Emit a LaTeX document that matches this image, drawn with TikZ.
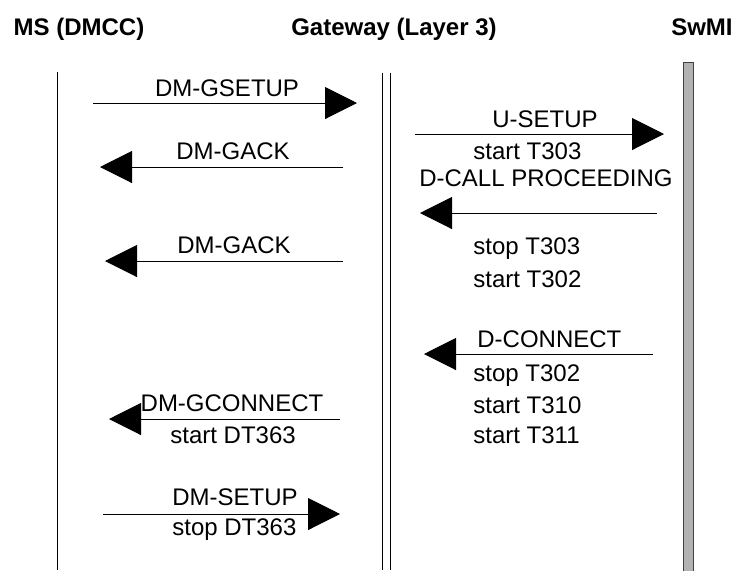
\documentclass[tikz,border=0pt]{standalone}
\usepackage{fontspec}
\setmainfont{Liberation Sans}
\usetikzlibrary{arrows.meta}

\tikzset{
  msg/.style={line width=0.5pt, -{Triangle[length=16pt,width=16pt]}},
  life/.style={line width=0.5pt},
  lbl/.style={inner sep=0pt, anchor=base, font=\fontsize{12}{14}\selectfont},
  lblw/.style={lbl, anchor=base west},
  hdr/.style={inner sep=0pt, anchor=base, font=\bfseries\fontsize{12}{14}\selectfont},
}

\begin{document}
\begin{tikzpicture}[x=0.5pt,y=-0.5pt]
  \useasboundingbox (0,0) rectangle (734,570);
  % headers
  \node[hdr] (msT) at (79,35) {MS (DMCC)};
  \node[hdr] (gwT) at (394,35) {Gateway (Layer 3)};
  \node[hdr, anchor=base east] (swT) at (733,35) {SwMI};
  % lifelines
  \coordinate (msTop) at (57,72);   \coordinate (msBot) at (57,570);
  \coordinate (gwTopA) at (382,73); \coordinate (gwBotA) at (382,570);
  \coordinate (gwTopB) at (390,73); \coordinate (gwBotB) at (390,570);
  \draw[life] (msTop) -- (msBot);
  \draw[life] (gwTopA) -- (gwBotA);
  \draw[life] (gwTopB) -- (gwBotB);
  \draw[line width=0.5pt, draw=black!75, fill=black!30] (683,62) rectangle (693,571);
  % messages MS <-> gateway
  \coordinate (gsetupA) at (93,103);  \coordinate (gsetupB) at (357,103);
  \draw[msg] (gsetupA) -- (gsetupB);
  \node[lbl] (gsetupL) at (227,96) {DM-GSETUP};
  \coordinate (gackA) at (343,167);   \coordinate (gackB) at (100,167);
  \draw[msg] (gackA) -- (gackB);
  \node[lbl] (gackL) at (233,159) {DM-GACK};
  \coordinate (gackbA) at (343,261);  \coordinate (gackbB) at (105,261);
  \draw[msg] (gackbA) -- (gackbB);
  \node[lbl] (gackbL) at (234,253) {DM-GACK};
  \coordinate (gconA) at (340,419);   \coordinate (gconB) at (109,419);
  \draw[msg] (gconA) -- (gconB);
  \node[lbl] (gconL) at (232,411) {DM-GCONNECT};
  \node[lblw] (gconT) at (170,443) {start DT363};
  \coordinate (dsetupA) at (103,514); \coordinate (dsetupB) at (340,514);
  \draw[msg] (dsetupA) -- (dsetupB);
  \node[lblw] (dsetupL) at (172,505) {DM-SETUP};
  \node[lblw] (dsetupT) at (172,535) {stop DT363};
  % messages gateway <-> SwMI
  \coordinate (usetupA) at (415,134); \coordinate (usetupB) at (664,134);
  \draw[msg] (usetupA) -- (usetupB);
  \node[lbl] (usetupL) at (545,127) {U-SETUP};
  \node[lblw] (usetupT) at (473,159) {start T303};
  \coordinate (dcallA) at (657,213);  \coordinate (dcallB) at (420,213);
  \draw[msg] (dcallA) -- (dcallB);
  \node[lbl] (dcallL) at (546,186) {D-CALL PROCEEDING};
  \node[lblw] (dcallT) at (473,254) {stop T303};
  \node[lblw] (dcallU) at (473,287) {start T302};
  \coordinate (dconA) at (653,354);   \coordinate (dconB) at (424,354);
  \draw[msg] (dconA) -- (dconB);
  \node[lblw] (dconL) at (477,347) {D-CONNECT};
  \node[lblw] (dconT) at (473,381) {stop T302};
  \node[lblw] (dconU) at (473,413) {start T310};
  \node[lblw] (dconV) at (473,443) {start T311};
\end{tikzpicture}
\end{document}
